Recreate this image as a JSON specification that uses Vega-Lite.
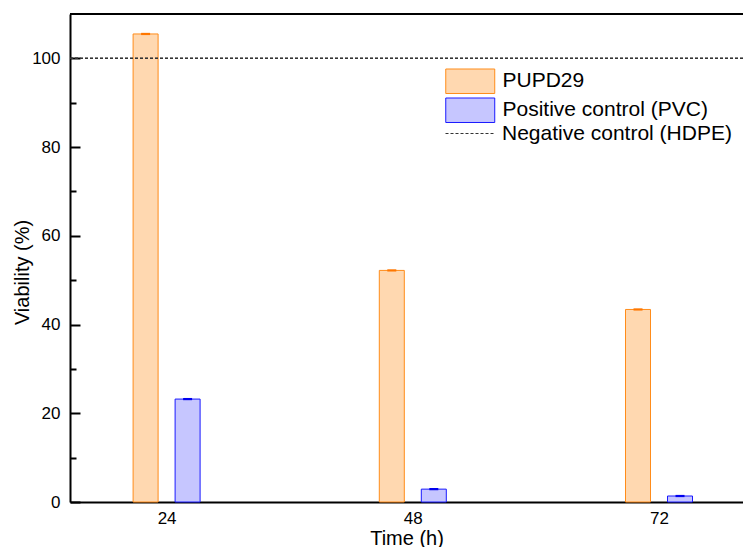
{
  "$schema": "https://vega.github.io/schema/vega-lite/v6.json",
  "width": 673,
  "height": 488,
  "autosize": {"type": "none"},
  "padding": {"left": 70, "top": 14, "right": 0, "bottom": 45},
  "background": "white",
  "config": {
    "view": {"stroke": null},
    "font": "Liberation Sans",
    "axis": {"grid": false, "domainColor": "black", "domainWidth": 2, "labelColor": "black", "titleColor": "black", "labelFont": "Liberation Sans", "titleFont": "Liberation Sans", "labelFontSize": 17, "titleFontSize": 20, "titleFontWeight": "normal", "tickColor": "black", "tickWidth": 2},
    "legend": {"labelFont": "Liberation Sans", "labelColor": "black", "labelLimit": 0}
  },
  "data": {
    "values": [
      {"time": 24, "series": "PUPD29", "viability": 105.5, "lo": 105.25, "hi": 105.75},
      {"time": 48, "series": "PUPD29", "viability": 52.2, "lo": 51.95, "hi": 52.45},
      {"time": 72, "series": "PUPD29", "viability": 43.4, "lo": 43.15, "hi": 43.65},
      {"time": 24, "series": "Positive control (PVC)", "viability": 23.2, "lo": 22.95, "hi": 23.45},
      {"time": 48, "series": "Positive control (PVC)", "viability": 2.9, "lo": 2.65, "hi": 3.15},
      {"time": 72, "series": "Positive control (PVC)", "viability": 1.35, "lo": 1.1, "hi": 1.6}
    ]
  },
  "layer": [
    {
      "transform": [{"filter": "datum.series === 'PUPD29'"}],
      "mark": {"type": "bar", "orient": "vertical", "width": 25, "xOffset": -21, "strokeWidth": 1},
      "encoding": {
        "x": {"field": "time", "type": "quantitative", "scale": {"domain": [15.07, 79.7], "nice": false, "zero": false},
          "axis": {"values": [24, 48, 72], "ticks": false, "labelPadding": 8, "title": "Time (h)", "titleY": 42, "titleBaseline": "alphabetic", "labelFlush": false}},
        "y": {"field": "viability", "type": "quantitative", "stack": null, "scale": {"domain": [0, 110], "nice": false},
          "axis": {"values": [0, 10, 20, 30, 40, 50, 60, 70, 80, 90, 100], "labelExpr": "datum.value % 20 === 0 ? datum.label : ''",
            "tickSize": {"condition": {"test": "datum.value % 20 === 0", "value": -10}, "value": -6},
            "labelPadding": 20, "title": "Viability (%)", "titleX": -48, "titleY": 258, "titleBaseline": "middle", "titleAlign": "center"}},
        "fill": {"field": "series", "type": "nominal", "scale": {"domain": ["PUPD29", "Positive control (PVC)"], "range": ["#ffd8b0", "#c6c6ff"]},
          "legend": {"orient": "none", "legendX": 375, "legendY": 53.75, "title": null, "symbolType": "M-1,-0.96H2.843V0.96H-1Z", "symbolSize": 650, "symbolStrokeWidth": 1, "labelFontSize": 21, "labelOffset": 30.5, "padding": 0, "rowPadding": 0}},
        "stroke": {"field": "series", "type": "nominal", "scale": {"domain": ["PUPD29", "Positive control (PVC)"], "range": ["#ff8c1a", "#1a1aff"]}}
      }
    },
    {
      "transform": [{"filter": "datum.series !== 'PUPD29'"}],
      "mark": {"type": "bar", "orient": "vertical", "width": 25, "xOffset": 21, "strokeWidth": 1},
      "encoding": {
        "x": {"field": "time", "type": "quantitative"},
        "y": {"field": "viability", "type": "quantitative", "stack": null},
        "fill": {"field": "series", "type": "nominal"},
        "stroke": {"field": "series", "type": "nominal"}
      }
    },
    {
      "transform": [{"filter": "datum.series === 'PUPD29'"}],
      "mark": {"type": "bar", "orient": "vertical", "width": 9, "xOffset": -21, "color": "#ff7700"},
      "encoding": {
        "x": {"field": "time", "type": "quantitative"},
        "y": {"field": "lo", "type": "quantitative"},
        "y2": {"field": "hi"}
      }
    },
    {
      "transform": [{"filter": "datum.series !== 'PUPD29'"}],
      "mark": {"type": "bar", "orient": "vertical", "width": 9, "xOffset": 21, "color": "#0000ee"},
      "encoding": {
        "x": {"field": "time", "type": "quantitative"},
        "y": {"field": "lo", "type": "quantitative"},
        "y2": {"field": "hi"}
      }
    },
    {
      "mark": {"type": "rule", "color": "#333333", "strokeWidth": 1},
      "encoding": {
        "y": {"datum": 100, "type": "quantitative"},
        "strokeDash": {"datum": "Negative control (HDPE)", "type": "nominal", "scale": {"range": [[3, 2]]},
          "legend": {"orient": "none", "legendX": 375, "legendY": 94.5, "title": null, "symbolType": "stroke", "symbolSize": 2401, "symbolStrokeColor": "#333333", "symbolStrokeWidth": 1, "labelFontSize": 21, "labelOffset": 7, "padding": 0}}
      }
    },
    {
      "mark": {"type": "rule", "color": "black", "strokeWidth": 2},
      "encoding": {"y": {"datum": 110, "type": "quantitative"}}
    }
  ]
}
